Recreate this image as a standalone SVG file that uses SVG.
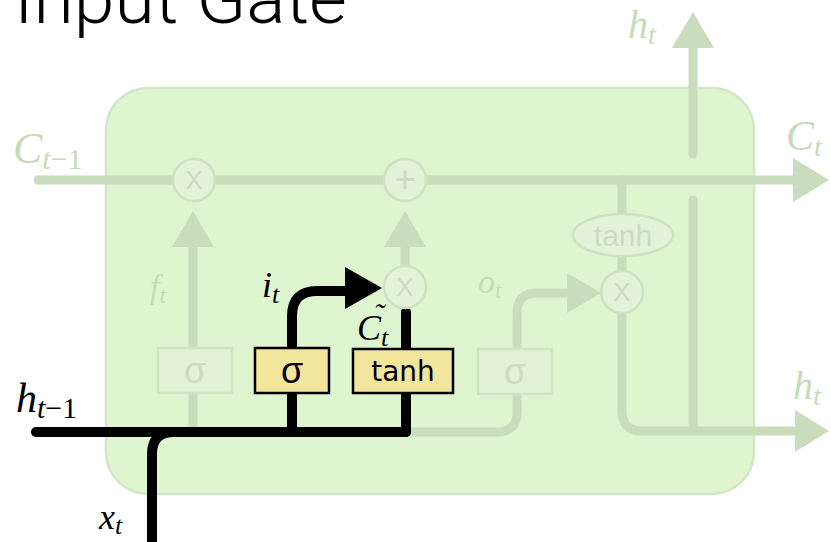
<svg xmlns="http://www.w3.org/2000/svg" width="831" height="542" viewBox="0 0 831 542">
<style>
.pl{fill:none;stroke:#c9dcbb;stroke-width:9;stroke-linecap:round;stroke-linejoin:round}
.pa{fill:#c9dcbb;stroke:none}
.pc{fill:#e3f3d8;stroke:#cfe2c2;stroke-width:2.5}
.pb{fill:#e2f2d4;stroke:#d2e5c3;stroke-width:2.5}
.pt{font-family:"Liberation Sans","DejaVu Sans",sans-serif;fill:#cbdcbf}
.bl{fill:none;stroke:#000;stroke-width:10;stroke-linecap:round;stroke-linejoin:round}
.yb{fill:#f3e59b;stroke:#000;stroke-width:2.5}
.m{font-family:"Liberation Serif","DejaVu Serif",serif;font-style:italic}
.mp{fill:#c8dbb8}
.mb{fill:#000}
</style>
<rect width="831" height="542" fill="#ffffff"/>
<text x="14" y="23" font-family="Roboto,Lato,'Liberation Sans',sans-serif" font-weight="300" font-size="72" textLength="333" lengthAdjust="spacingAndGlyphs" fill="#000">Input Gate</text>
<g id="cell">
<rect x="106" y="88" width="648" height="406" rx="42" ry="42" fill="#dff5d0" stroke="#d3e6c6" stroke-width="2.5"/>
</g>
<g id="connectors">
<line class="pl" x1="38" y1="180" x2="798" y2="180"/>
<polygon class="pa" points="793,158 829,180 793,202"/>
<line class="pl" x1="193" y1="245" x2="193" y2="430"/>
<polygon class="pa" points="172,247 193,211 214,247"/>
<line class="pl" x1="405" y1="245" x2="405" y2="270"/>
<polygon class="pa" points="384,247 405,211 426,247"/>
<path class="pl" d="M406,432 H497 Q517,432 517,412 V313 Q517,293 537,293 H570"/>
<polygon class="pa" points="567,273 601,293 567,313"/>
<line class="pl" x1="622" y1="180" x2="622" y2="215"/>
<line class="pl" x1="622" y1="255" x2="622" y2="272"/>
<path class="pl" d="M622,312 V411 Q622,431 642,431 H798"/>
<polygon class="pa" points="795,410 829,431 795,452"/>
<line class="pl" x1="693" y1="200" x2="693" y2="431"/>
<line class="pl" x1="693" y1="45" x2="693" y2="154"/>
<polygon class="pa" points="672,48 693,12 714,48"/>
<line class="bl" x1="36" y1="432" x2="406" y2="432"/>
<line class="bl" x1="406" y1="432" x2="406" y2="312"/>
<path class="bl" d="M152,542 V454 Q152,432 174,432"/>
<path class="bl" d="M292,432 V316 Q292,291 317,291 H350"/>
<polygon fill="#000" points="345,267 382,288 345,309"/>
</g>
<g id="mul-forget">
<circle class="pc" cx="194" cy="180" r="21"/>
<text class="pt" x="194" y="189" font-size="26" text-anchor="middle">X</text>
</g>
<g id="add">
<circle class="pc" cx="405" cy="180" r="21"/>
<text class="pt" x="405" y="192" font-size="36" text-anchor="middle">+</text>
</g>
<g id="mul-input">
<circle class="pc" cx="405" cy="287" r="21"/>
<text class="pt" x="405" y="296" font-size="26" text-anchor="middle">X</text>
</g>
<g id="mul-output">
<circle class="pc" cx="622" cy="292" r="21"/>
<text class="pt" x="622" y="301" font-size="26" text-anchor="middle">X</text>
</g>
<g id="tanh-out">
<ellipse class="pc" cx="623" cy="235" rx="50" ry="21"/>
<text class="pt" x="623" y="246" font-size="30" text-anchor="middle">tanh</text>
</g>
<g id="sigma-forget">
<rect class="pb" x="158" y="348" width="74" height="45"/>
<text class="pt" x="195" y="383" font-size="36" text-anchor="middle">σ</text>
</g>
<g id="sigma-output">
<rect class="pb" x="478" y="349" width="74" height="45"/>
<text class="pt" x="515" y="384" font-size="36" text-anchor="middle">σ</text>
</g>
<g id="sigma-input">
<rect class="yb" x="255" y="348" width="74" height="45"/>
<text x="292" y="383" font-family="'Liberation Sans','DejaVu Sans',sans-serif" font-size="36" text-anchor="middle" fill="#000">σ</text>
</g>
<g id="tanh-input">
<rect class="yb" x="353" y="349" width="100" height="44"/>
<text x="403" y="381" font-family="'DejaVu Sans','Liberation Sans',sans-serif" font-size="28" text-anchor="middle" fill="#000">tanh</text>
</g>
<g id="labels">
<text class="m mp" x="13" y="163" font-size="44">C<tspan font-size="30" dy="6">t</tspan><tspan font-size="30" font-style="normal">−1</tspan></text>
<text class="m mp" x="786" y="150" font-size="42">C<tspan font-size="28" dy="6">t</tspan></text>
<text class="m mp" x="628" y="38" font-size="40">h<tspan font-size="28" dy="6">t</tspan></text>
<text class="m mp" x="793" y="399" font-size="40">h<tspan font-size="28" dy="6">t</tspan></text>
<text class="m mp" x="150" y="298" font-size="34">f<tspan font-size="24" dy="5">t</tspan></text>
<text class="m mp" x="478" y="293" font-size="34">o<tspan font-size="24" dy="5">t</tspan></text>
<text class="m mb" x="16" y="412" font-size="42">h<tspan font-size="30" dy="6">t</tspan><tspan font-size="30" font-style="normal">−1</tspan></text>
<text class="m mb" x="99" y="529" font-size="36">x<tspan font-size="26" dy="5">t</tspan></text>
<text class="m mb" x="262" y="297" font-size="36">i<tspan font-size="26" dy="6">t</tspan></text>
<text class="m mb" x="357" y="340" font-size="36">C<tspan font-size="26" dy="6">t</tspan></text>
<text class="m mb" x="374" y="324" font-size="30" font-style="normal">˜</text>
</g>
</svg>
